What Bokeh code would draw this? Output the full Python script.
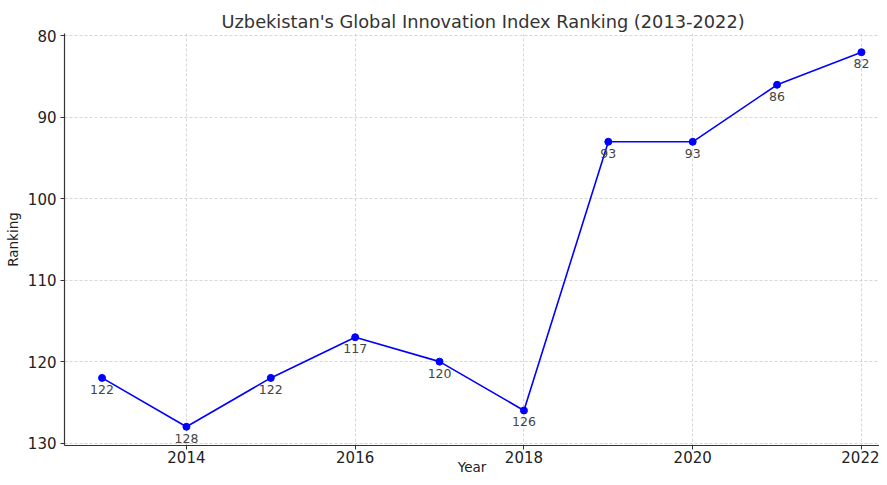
from bokeh.plotting import figure
from bokeh.models import Range1d, FixedTicker, ColumnDataSource, LabelSet
from bokeh.core.properties import value
from bokeh.embed import file_html
from bokeh.resources import INLINE

years = [2013, 2014, 2015, 2016, 2017, 2018, 2019, 2020, 2021, 2022]
ranks = [122, 128, 122, 117, 120, 126, 93, 93, 86, 82]
rank_labels = [str(r) for r in ranks]
x_ticks = [2014, 2016, 2018, 2020, 2022]
y_ticks = [80, 90, 100, 110, 120, 130]

FONT = "DejaVu Sans"

p = figure(width=879, height=477, output_backend="svg", toolbar_location=None,
           x_range=Range1d(2012.555, 2022.214), y_range=Range1d(130.3, 79.7),
           title="Uzbekistan's Global Innovation Index Ranking (2013-2022)",
           min_border_left=64, min_border_right=0, min_border_top=33, min_border_bottom=27)

p.title.text_font = FONT
p.title.text_font_size = "17.8px"
p.title.text_font_style = "normal"
p.title.text_color = "#333333"
p.title.align = "left"
p.title.offset = 157
p.title.standoff = 3

p.outline_line_color = None
p.background_fill_color = "white"
p.border_fill_color = "white"

p.xaxis.ticker = FixedTicker(ticks=x_ticks)
p.yaxis.ticker = FixedTicker(ticks=y_ticks)
p.xgrid.ticker = FixedTicker(ticks=x_ticks)
p.ygrid.ticker = FixedTicker(ticks=y_ticks)

for ax in (p.xaxis[0], p.yaxis[0]):
    ax.axis_line_color = "#333333"
    ax.axis_line_width = 1.2
    ax.major_tick_line_color = "#333333"
    ax.major_tick_out = 4
    ax.major_tick_in = 0
    ax.minor_tick_out = 0
    ax.minor_tick_in = 0
    ax.major_label_text_font = FONT
    ax.major_label_text_font_size = "15px"
    ax.major_label_text_color = "#222222"
    ax.axis_label_text_font = FONT
    ax.axis_label_text_font_size = "13.5px"
    ax.axis_label_text_font_style = "normal"
    ax.axis_label_text_color = "#222222"

p.xaxis.axis_label = "Year"
p.yaxis.axis_label = "Ranking"
p.xaxis.major_label_standoff = 1
p.xaxis.axis_label_standoff = -7
p.yaxis.major_label_standoff = 4
p.yaxis.axis_label_standoff = 4

p.grid.grid_line_color = "#cccccc"
p.grid.grid_line_dash = "3 2"
p.grid.grid_line_width = 0.8

src = ColumnDataSource(dict(x=years, y=ranks, t=rank_labels))
p.line("x", "y", source=src, line_color="#0000ff", line_width=1.6)
p.scatter("x", "y", source=src, size=7, fill_color="#0000ff", line_color="#0000ff")

labels = LabelSet(x="x", y="y", text="t", source=src, text_align="center",
                  text_baseline="top", y_offset=-7, text_font=value(FONT),
                  text_font_size="12.5px", text_color="#444444")
p.add_layout(labels)

open("out.html", "w").write(file_html(p, INLINE))
